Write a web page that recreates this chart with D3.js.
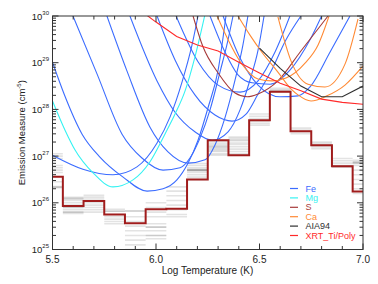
<!DOCTYPE html>
<html><head><meta charset="utf-8">
<script src="https://cdn.jsdelivr.net/npm/d3@7"></script>
<style>body{margin:0;background:#fff}svg{display:block}text{font-family:"Liberation Sans",Arial,sans-serif}</style>
</head><body>
<svg id="c" width="378" height="284"></svg>
<script>
const binT = [5.5,5.6,5.7,5.8,5.9,6.0,6.1,6.2,6.3,6.4,6.5,6.6,6.7,6.8,6.9,7.0];
const demBest = [26.56,25.93,26.04,25.75,25.56,25.86,25.87,26.50,27.34,27.02,27.77,28.38,27.53,27.23,26.78,26.24];
const demSamples = [
 [27.05,27.0,26.95,26.8,26.75,26.7,26.65,26.45,26.35,26.33,26.33],
 [26.12,26.09,26.09,26.05,26.0,25.95,25.9,25.9,25.85,25.8,25.8,25.77],
 [26.16,26.12,26.08,26.04,26.0,25.95,25.9,25.85,25.8],
 [25.86,25.82,25.82,25.75,25.7,25.65,25.6,25.55],
 [25.83,25.82,25.7,25.6,25.5,25.4,25.3,25.2,25.1,25.0,24.9],
 [26.0,25.9,25.8,25.7,25.55,25.48,25.48,25.4,25.3,25.3,25.23],
 [26.34,26.25,26.15,26.05,25.95,25.85,25.75,25.7],
 [26.84,26.8,26.75,26.72,26.70,26.70,26.70,26.68,26.65,26.6,26.55,26.5],
 [27.32,27.28,27.25,27.22,27.2,27.18,27.15,27.12,27.1,27.05,27.02],
 [27.41,27.38,27.35,27.33,27.28,27.25,27.2,27.15,27.1,27.05,27.02],
 [27.9,27.85,27.8,27.75,27.7,27.66],
 [28.45,28.42,28.4,28.38],
 [27.6,27.56,27.52,27.48],
 [27.3,27.27,27.24,27.2,27.16],
 [26.95,26.9,26.85,26.8,26.78,26.78,26.77],
 [26.91,26.88,26.86,26.86,26.84,26.8,26.7,26.6,26.5,26.4,26.3,26.2]
];
// EM loci curves: [logT, logEM] points
const feCurves = [
 [[5.5,27.02],[5.647,26.72],[5.792,26.60],[5.908,26.77],[6.005,27.28],[6.068,27.84],[6.126,28.59],[6.174,29.38],[6.203,30.0]],
 [[5.5,29.01],[5.556,28.33],[5.643,27.47],[5.729,26.98],[5.841,26.55],[5.957,26.25],[6.034,26.30],[6.101,26.49],[6.155,26.85],[6.203,27.34],[6.251,28.03],[6.300,28.84],[6.338,30.0]],
 [[5.599,30],[5.715,28.76],[5.836,27.47],[5.932,26.96],[6.034,26.70],[6.116,26.75],[6.164,26.96],[6.213,27.39],[6.261,27.99],[6.309,28.80],[6.348,29.49],[6.372,30]],
 [[5.763,30],[5.860,28.82],[5.971,27.62],[6.058,27.09],[6.155,26.85],[6.237,26.92],[6.285,27.24],[6.333,27.82],[6.382,28.63],[6.420,29.38],[6.444,30]],
 [[5.874,30],[6.005,28.61],[6.092,27.94],[6.188,27.52],[6.271,27.34],[6.348,27.52],[6.406,27.99],[6.454,28.63],[6.493,29.27],[6.522,30]],
 [[6.005,30],[6.092,29.06],[6.188,28.31],[6.285,27.88],[6.367,27.75],[6.435,27.90],[6.493,28.33],[6.556,28.82],[6.628,29.49],[6.700,30]],
 [[6.097,30],[6.203,29.02],[6.300,28.52],[6.406,28.37],[6.493,28.61],[6.575,29.23],[6.647,30]],
 [[6.261,30],[6.333,29.23],[6.396,28.74],[6.464,28.57],[6.551,28.54],[6.647,28.84],[6.744,29.49],[6.80,30]],
 [[6.324,30],[6.406,29.10],[6.493,28.52],[6.599,28.27],[6.686,28.29],[6.744,28.48],[6.841,29.23],[6.937,30]]
];
const mgCurves = [
 [[5.5,28.18],[5.560,27.56],[5.609,27.13],[5.696,26.64],[5.792,26.34],[5.889,26.49],[5.971,26.88],[6.043,27.47],[6.092,27.90],[6.140,28.39],[6.188,29.12],[6.237,30.04]]
];
const sCurves = [
 [[6.179,30],[6.227,29.34],[6.300,28.78],[6.382,28.35],[6.440,28.27],[6.493,28.33],[6.589,28.61],[6.700,29.25],[6.831,30]]
];
const caCurves = [
 [[6.295,30],[6.415,28.97],[6.493,28.65],[6.560,28.61],[6.628,28.67],[6.720,28.99],[6.783,29.38],[6.836,30]],
 [[6.396,30],[6.454,29.59],[6.507,29.25],[6.589,28.80],[6.652,28.44],[6.686,28.31],[6.749,28.18],[6.826,28.29],[6.913,28.52],[7.0,28.93]],
 [[6.589,29.98],[6.652,29.04],[6.734,28.54],[6.816,28.48],[6.913,28.97],[6.976,29.94]]
];
const aiaCurve = [[6.5,29.31],[6.6,28.88],[6.7,28.50],[6.8,28.27],[6.9,28.27],[7.0,28.50]];
const xrtCurve = [[5.9,30.2],[6.0,29.87],[6.1,29.56],[6.2,29.38],[6.3,29.25],[6.4,29.01],[6.5,28.78],[6.6,28.56],[6.7,28.40],[6.8,28.22],[6.9,28.15],[7.0,28.11]];
const legendNames = ["Fe","Mg","S","Ca","AIA94","XRT_Ti/Poly"];
const legendColors = ["#3b6cff","#35f2f2","#a63a3a","#ff8a35","#303030","#ff2a2a"];
const xTicks = [5.5,6.0,6.5,7.0];
const yTicks = [25,26,27,28,29,30];

const svg = d3.select("#c");
const m = {l:52.5, r:363, t:16, b:249.5};
const x = d3.scaleLinear().domain([5.5,7.0]).range([m.l, m.r]);
const y = d3.scaleLinear().domain([25,30]).range([m.b, m.t]);

svg.append("defs").append("clipPath").attr("id","clip")
  .append("rect").attr("x",m.l).attr("y",m.t).attr("width",m.r-m.l).attr("height",m.b-m.t);
const g = svg.append("g").attr("clip-path","url(#clip)");

// gray samples
const hw = 0.05;
demSamples.forEach((arr,i)=>{
  const t = binT[i];
  arr.forEach(v=>{
    g.append("line").attr("x1",x(t-hw)).attr("x2",x(t+hw)).attr("y1",y(v)).attr("y2",y(v))
     .attr("stroke","#000").attr("stroke-opacity",0.11).attr("stroke-width",1.6);
  });
});

const line = d3.line().x(d=>x(d[0])).y(d=>y(d[1])).curve(d3.curveMonotoneX);
const drawSet = (set,color,w)=>set.forEach(c=>g.append("path").attr("d",line(c)).attr("fill","none").attr("stroke",color).attr("stroke-width",w));
drawSet(feCurves,legendColors[0],1.1);
drawSet(mgCurves,legendColors[1],1.1);
drawSet(sCurves,legendColors[2],1.1);
drawSet(caCurves,legendColors[3],1.1);
const lin = d3.line().x(d=>x(d[0])).y(d=>y(d[1]));
g.append("path").attr("d",lin(aiaCurve)).attr("fill","none").attr("stroke",legendColors[4]).attr("stroke-width",1.1);
g.append("path").attr("d",lin(xrtCurve)).attr("fill","none").attr("stroke",legendColors[5]).attr("stroke-width",1.1);

// DEM best
const step = d3.line().x((d,i)=>x(binT[i])).y(d=>y(d)).curve(d3.curveStep);
g.append("path").attr("d",step(demBest)).attr("fill","none").attr("stroke","#a01c1c").attr("stroke-width",2);

// axes frame
const ax = svg.append("g").attr("stroke","#333").attr("fill","none");
ax.append("rect").attr("x",m.l).attr("y",m.t).attr("width",m.r-m.l).attr("height",m.b-m.t).attr("stroke-width",1);
for(let k=0;k<=15;k++){
  const t=5.5+k*0.1, xx=x(t), major = (k%5===0);
  const len = major?6:3.5;
  ax.append("line").attr("x1",xx).attr("x2",xx).attr("y1",m.b).attr("y2",m.b-len);
  ax.append("line").attr("x1",xx).attr("x2",xx).attr("y1",m.t).attr("y2",m.t+len);
}
for(let d=25; d<30; d++){
  for(let k=1;k<=9;k++){
    const v = d+Math.log10(k), yy=y(v), len = k===1?6:3.5;
    ax.append("line").attr("x1",m.l).attr("x2",m.l+len).attr("y1",yy).attr("y2",yy);
    ax.append("line").attr("x1",m.r).attr("x2",m.r-len).attr("y1",yy).attr("y2",yy);
  }
}
ax.append("line").attr("x1",m.l).attr("x2",m.l+6).attr("y1",y(30)).attr("y2",y(30));
ax.append("line").attr("x1",m.r).attr("x2",m.r-6).attr("y1",y(30)).attr("y2",y(30));

const tl = svg.append("g").attr("fill","#222").attr("font-size",9.5);
xTicks.forEach(t=>tl.append("text").attr("x",x(t)).attr("y",263).attr("font-size",10).attr("text-anchor","middle").text(t.toFixed(1)));
yTicks.forEach(v=>{
  const tx = tl.append("text").attr("x",49).attr("y",y(v)+3.5).attr("text-anchor","end");
  tx.append("tspan").text("10");
  tx.append("tspan").attr("dy",-5).attr("font-size",6).text(v);
});
tl.append("text").attr("x",207.5).attr("y",274).attr("font-size",10).attr("text-anchor","middle").text("Log Temperature (K)");
const yl = tl.append("text").attr("transform","translate(24.5,"+((m.t+m.b)/2)+") rotate(-90)").attr("text-anchor","middle");
yl.append("tspan").text("Emission Measure (cm");
yl.append("tspan").attr("dy",-4).attr("font-size",6).text("-5");
yl.append("tspan").attr("dy",4).text(")");

// legend
const lg = svg.append("g");
legendNames.forEach((n,i)=>{
  const yy = 191.5 + i*9.4;
  lg.append("line").attr("x1",290).attr("x2",298).attr("y1",yy-3).attr("y2",yy-3).attr("stroke",legendColors[i]).attr("stroke-width",1.2);
  lg.append("text").attr("x",305.5).attr("y",yy).attr("font-size",9).attr("fill",legendColors[i]).text(n);
});
</script>
</body></html>
